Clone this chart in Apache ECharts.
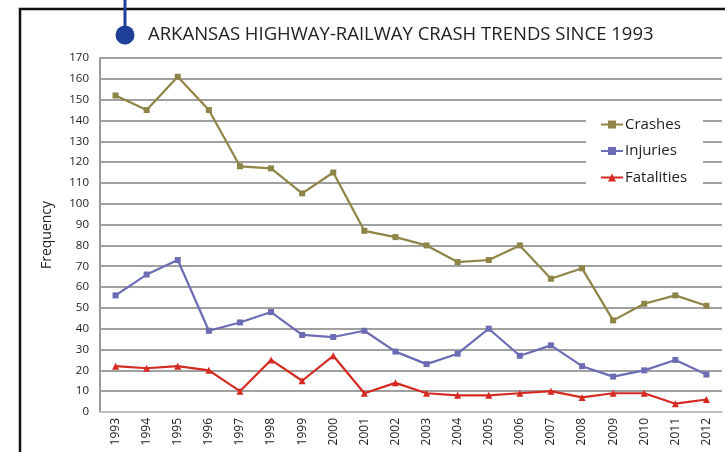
<!DOCTYPE html>
<html><head><meta charset="utf-8">
<script src="https://cdn.jsdelivr.net/npm/echarts@6/dist/echarts.min.js"></script>
<style>html,body{margin:0;padding:0;background:#fff}#c{width:725px;height:452px}</style>
</head><body><div id="c"></div>
<script>
const years = ['1993','1994','1995','1996','1997','1998','1999','2000','2001','2002','2003','2004','2005','2006','2007','2008','2009','2010','2011','2012'];
const crashes = [152,145,161,145,118,117,105,115,87,84,80,72,73,80,64,69,44,52,56,51];
const injuries = [56,66,73,39,43,48,37,36,39,29,23,28,40,27,32,22,17,20,25,18];
const fatalities = [22,21,22,20,10,25,15,27,9,14,9,8,8,9,10,7,9,9,4,6];
const titleText = 'ARKANSAS HIGHWAY-RAILWAY CRASH TRENDS SINCE 1993';

const chart = echarts.init(document.getElementById('c'));
const font = '"Open Sans", "Noto Sans", sans-serif';
chart.setOption({
  animation: false,
  textStyle: {fontFamily: font},
  graphic: [
    {type: 'polyline', shape: {points: [[20, 452], [20, 9], [730, 9]]}, style: {stroke: '#111', lineWidth: 2.5, fill: null}},
    {type: 'line', shape: {x1: 125, y1: 0, x2: 125, y2: 34}, style: {stroke: '#1f3f99', lineWidth: 3}},
    {type: 'circle', shape: {cx: 125, cy: 35, r: 9.5}, style: {fill: '#1f3f99'}},
    {type: 'text', left: 148, top: 25, style: {text: titleText, fill: '#222', font: '18.5px "Open Sans", sans-serif'}}
  ],
  grid: {left: 100, right: 3, top: 58, bottom: 40},
  legend: {
    orient: 'vertical', left: 586, top: 113, itemGap: 11.5, itemWidth: 22, itemHeight: 10,
    textStyle: {fontSize: 15, color: '#222', fontFamily: font, padding: [0, 0, 0, -3]},
    backgroundColor: '#fff', padding: [4, 16, 4, 14],
    data: ['Crashes', 'Injuries', 'Fatalities']
  },
  xAxis: {
    type: 'category', data: years, boundaryGap: true,
    axisLine: {lineStyle: {color: '#ccc', width: 1.5}},
    axisTick: {show: false},
    axisLabel: {rotate: 90, color: '#222', fontSize: 12, margin: 6, interval: 0}
  },
  yAxis: {
    type: 'value', min: 0, max: 170, interval: 10,
    name: 'Frequency', nameLocation: 'middle', nameGap: 46, nameRotate: 90,
    nameTextStyle: {fontSize: 14, color: '#222'},
    axisLine: {show: true, lineStyle: {color: '#999', width: 2}},
    axisTick: {show: false},
    axisLabel: {color: '#222', fontSize: 11.5, margin: 11},
    splitLine: {lineStyle: {color: '#a0a0a0', width: 2}}
  },
  series: [
    {name: 'Crashes', type: 'line', data: crashes, symbol: 'rect', symbolSize: 6, itemStyle: {color: '#8f8447'}, lineStyle: {width: 2.2}},
    {name: 'Injuries', type: 'line', data: injuries, symbol: 'rect', symbolSize: 6, itemStyle: {color: '#6c6cb4'}, lineStyle: {width: 2.2}},
    {name: 'Fatalities', type: 'line', data: fatalities, symbol: 'triangle', symbolSize: 7, itemStyle: {color: '#d42a22'}, lineStyle: {width: 2.2}}
  ]
});
</script></body></html>
